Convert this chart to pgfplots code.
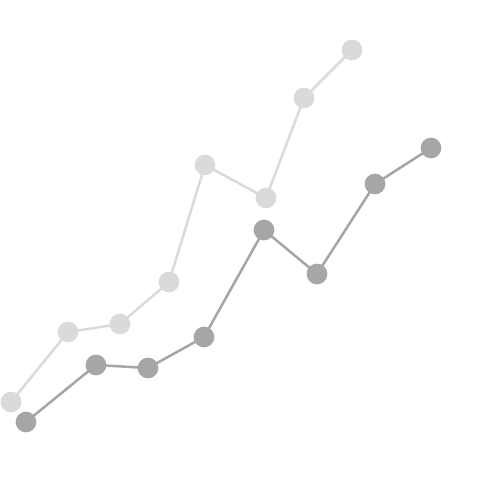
\documentclass[border=0pt]{standalone}
\usepackage{pgfplots}
\pgfplotsset{compat=1.18}
\definecolor{lightg}{HTML}{DADADA}
\definecolor{darkg}{HTML}{A6A6A6}
\begin{document}
\begin{tikzpicture}
\begin{axis}[
  scale only axis, width=375pt, height=375pt,
  xmin=-1, xmax=499, ymin=1, ymax=501,
  axis lines=box, axis line style={draw=none}, ticks=none,
  clip=false,
]
\addplot[lightg, line width=1.9pt, mark=*, mark size=6.8pt, mark options={fill=lightg, draw=lightg}] coordinates {
(10,99) (67,169) (119,177) (168,219) (204,336) (265,303) (303,403) (351,451)
};
\addplot[darkg, line width=1.9pt, mark=*, mark size=6.8pt, mark options={fill=darkg, draw=darkg}] coordinates {
(25,79) (95,136) (147,133) (203,164) (263,271) (316,227) (374,317) (430,353)
};
\end{axis}
\end{tikzpicture}
\end{document}
